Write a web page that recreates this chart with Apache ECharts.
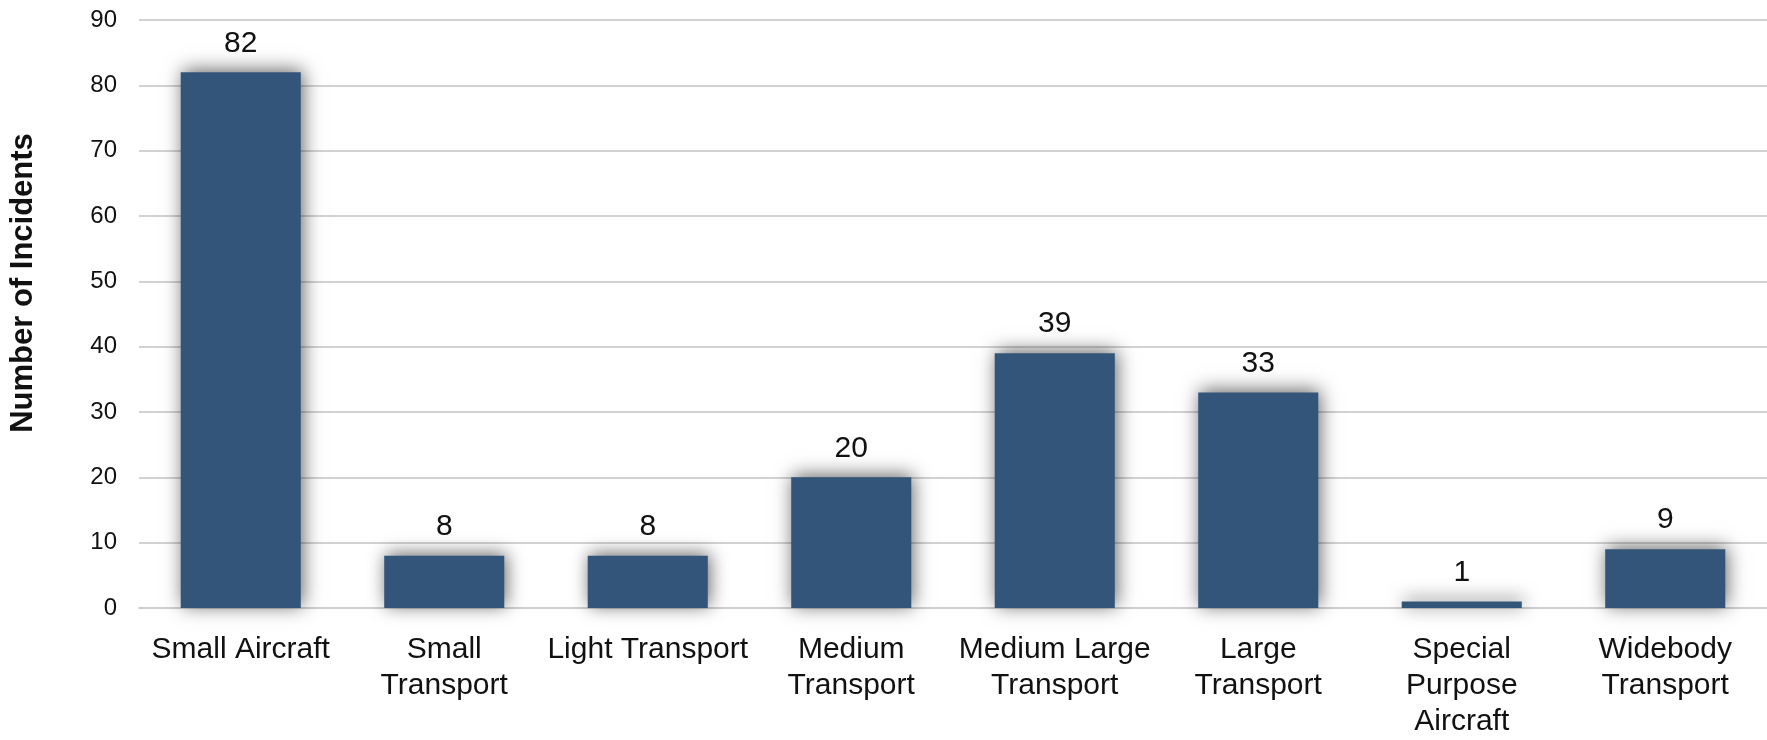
<!DOCTYPE html>
<html>
<head>
<meta charset="utf-8">
<script src="https://cdn.jsdelivr.net/npm/echarts@6/dist/echarts.min.js"></script>
<style>
html,body{margin:0;padding:0;background:#fff;}
#chart{width:1767px;height:740px;}
</style>
</head>
<body>
<div id="chart"></div>
<script>
const categories = ["Small Aircraft", "Small\nTransport", "Light Transport", "Medium\nTransport", "Medium Large\nTransport", "Large\nTransport", "Special\nPurpose\nAircraft", "Widebody\nTransport"];
const incidents = [82, 8, 8, 20, 39, 33, 1, 9];
const yTicks = { min: 0, max: 90, interval: 10 };
const yTitle = "Number of Incidents";

const chart = echarts.init(document.getElementById('chart'));
const font = '"Liberation Sans", Arial, Helvetica, sans-serif';
chart.setOption({
  animation: false,
  grid: { left: 136, top: 20, width: 1641, bottom: 125, containLabel: false },
  xAxis: {
    type: 'category',
    data: categories,
    axisLine: { show: true, lineStyle: { color: '#cfcfcf', width: 2 } },
    axisTick: { show: false },
    axisLabel: {
      interval: 0, color: '#111', fontFamily: font, fontSize: 30,
      lineHeight: 36, margin: 24
    }
  },
  yAxis: {
    type: 'value',
    min: yTicks.min, max: yTicks.max, interval: yTicks.interval,
    name: yTitle,
    nameLocation: 'middle',
    nameGap: 100,
    nameTextStyle: { fontFamily: font, fontSize: 31, fontWeight: 'bold', color: '#111', padding: [0, 0, 0, 62] },
    axisLine: { show: false },
    axisTick: { show: false },
    axisLabel: { color: '#111', fontFamily: font, fontSize: 24, margin: 22 },
    splitLine: { lineStyle: { color: '#d2d2d2', width: 2 } }
  },
  series: [{
    type: 'bar',
    data: incidents,
    barCategoryGap: '41%',
    itemStyle: {
      color: '#33557a',
      shadowBlur: 18,
      shadowColor: 'rgba(0,0,0,0.6)',
      shadowOffsetX: 2,
      shadowOffsetY: -2
    },
    label: {
      show: true, position: 'top', distance: 14,
      color: '#111', fontFamily: font, fontSize: 30
    }
  }]
});
</script>
</body>
</html>
